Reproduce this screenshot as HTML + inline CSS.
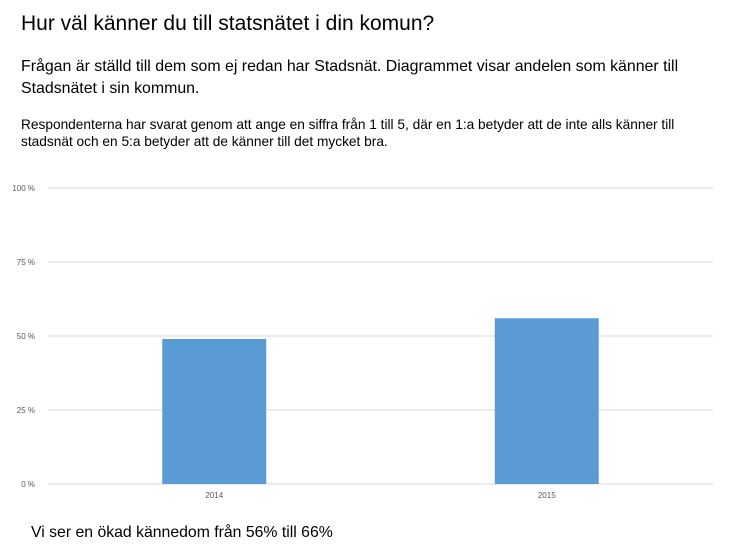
<!DOCTYPE html>
<html><head><meta charset="utf-8"><style>
body{margin:0;width:730px;height:560px;background:#fff;font-family:"Liberation Sans",sans-serif;position:relative;overflow:hidden}
.t{position:absolute;color:#000;white-space:nowrap}
</style></head><body>
<div class="t" style="left:21px;top:12px;font-size:21px">Hur väl känner du till statsnätet i din komun?</div>
<div class="t" style="left:21px;top:56px;font-size:15.9px;line-height:22px">Frågan är ställd till dem som ej redan har Stadsnät. Diagrammet visar andelen som känner till<br>Stadsnätet i sin kommun.</div>
<div class="t" style="left:21px;top:116px;font-size:13.7px;line-height:17px">Respondenterna har svarat genom att ange en siffra från 1 till 5, där en 1:a betyder att de inte alls känner till<br>stadsnät och en 5:a betyder att de känner till det mycket bra.</div>
<svg id="chart" width="730" height="560" style="position:absolute;left:0;top:0"></svg>
<div class="t" style="left:31px;top:524px;font-size:15.8px">Vi ser en ökad kännedom från 56% till 66%</div>
<script>
const categories=["2014","2015"];
const values=[0.49,0.56];
const ticks=[0,0.25,0.5,0.75,1];
const tickLabels=["0 %","25 %","50 %","75 %","100 %"];
const svg=document.getElementById('chart');
const NS="http://www.w3.org/2000/svg";
const x0=48,x1=713,y0=484,y1=188,bw=104;
const y=v=>y0-(y0-y1)*v;
const xc=i=>x0+(x1-x0)*(i+0.5)/categories.length;
function mk(t,a){const e=document.createElementNS(NS,t);for(const k in a)e.setAttribute(k,a[k]);svg.appendChild(e);return e;}
ticks.forEach((v,i)=>{
 const l=mk('line',{x1:x0,x2:x1,y1:y(v),y2:y(v),stroke:'#d9d9d9','stroke-width':1});
 
 
 const t=mk('text',{x:35,y:y(v)+3,'text-anchor':'end','font-size':8,fill:'#595959','font-family':'Liberation Sans, sans-serif'});
 t.textContent=tickLabels[i];
 
 
});
categories.forEach((c,i)=>{
 const r=mk('rect',{x:xc(i)-bw/2,y:y(values[i]),width:bw,height:y0-y(values[i]),fill:'#5b9bd5'});
 
 
 const t=mk('text',{x:xc(i),y:498,'text-anchor':'middle','font-size':8,fill:'#595959','font-family':'Liberation Sans, sans-serif'});
 t.textContent=c;
 
 
});
</script>
</body></html>
